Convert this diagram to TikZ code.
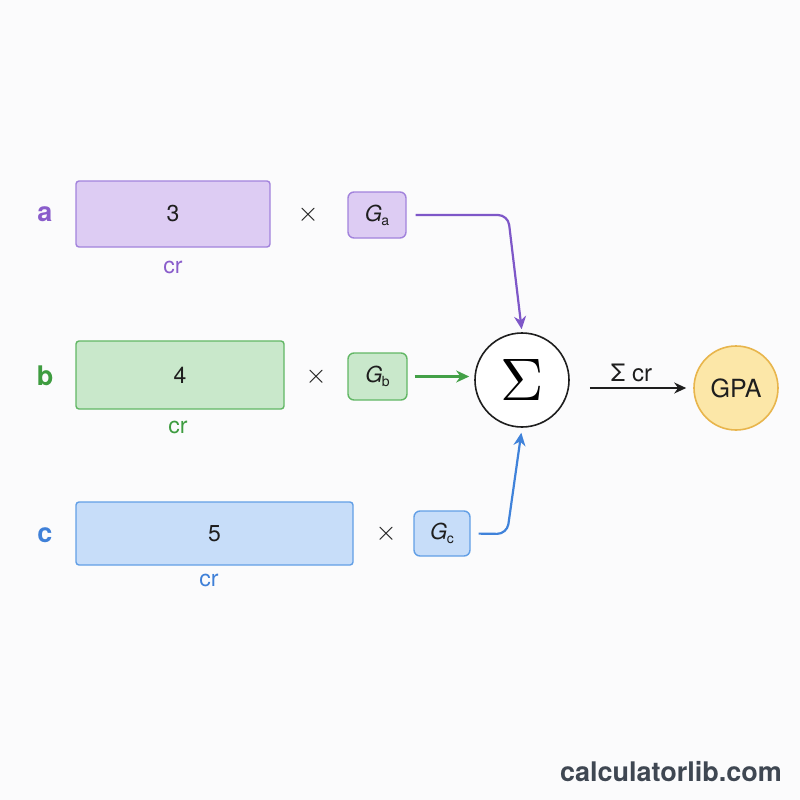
\documentclass[tikz,border=0pt]{standalone}
\usepackage{fontspec}
\setmainfont{TeX Gyre Heros}
\usetikzlibrary{arrows.meta}
\definecolor{bg}{HTML}{FBFBFC}
\definecolor{pfill}{HTML}{DDCCF3}
\definecolor{pdraw}{HTML}{A283DC}
\definecolor{ptext}{HTML}{8A5DCB}
\definecolor{parrow}{HTML}{7E57C8}
\definecolor{gfill}{HTML}{C9E8CB}
\definecolor{gdraw}{HTML}{62B765}
\definecolor{gtext}{HTML}{3E9C40}
\definecolor{garrow}{HTML}{43A047}
\definecolor{bfill}{HTML}{C7DDF9}
\definecolor{bdraw}{HTML}{629FE6}
\definecolor{btext}{HTML}{3F80D8}
\definecolor{barrow}{HTML}{3F82DA}
\definecolor{yfill}{HTML}{FCE7A8}
\definecolor{ydraw}{HTML}{E8B54C}
\definecolor{wm}{HTML}{3F4752}
\definecolor{ink}{HTML}{1E1E1E}
\newcommand{\gsym}[1]{{\itshape G}\kern-0.5pt\raisebox{-4pt}{\fontsize{14}{14}\selectfont #1}}
\newcommand{\timessym}{\scalebox{2.7}{$\times$}}
\tikzset{
  crbox/.style={draw, line width=1.4pt, rounded corners=3pt, inner sep=0pt, font=\fontsize{23}{23}\selectfont, text=ink},
  gbox/.style={draw, line width=1.4pt, rounded corners=6pt, inner sep=0pt, font=\fontsize{22}{22}\selectfont, text=ink},
  rowlabel/.style={font=\fontsize{27}{27}\selectfont\bfseries},
  crlabel/.style={font=\fontsize{23}{23}\selectfont},
  timeslabel/.style={text=ink, inner sep=0pt},
  flow/.style={line width=2.2pt, -{Stealth[length=13pt,width=12pt]}},
}
\begin{document}
\begin{tikzpicture}[x=1pt,y=-1pt]
\fill[bg] (0,0) rectangle (800,800);
\useasboundingbox (0,0) rectangle (800,800);

% row a
\node[rowlabel, text=ptext] (la) at (45,214) {a};
\node[crbox, fill=pfill, draw=pdraw, minimum width=194pt, minimum height=66pt] (A) at (173,214) {3};
\node[crlabel, text=ptext] (cra) at (173,267) {cr};
\node[timeslabel] (xa) at (308,215) {\timessym};
\node[gbox, fill=pfill, draw=pdraw, minimum width=58pt, minimum height=46pt] (Ga) at (377,215) {\gsym{a}};

% row b
\node[rowlabel, text=gtext] (lb) at (45,376) {b};
\node[crbox, fill=gfill, draw=gdraw, minimum width=208pt, minimum height=68pt] (B) at (180,375) {4};
\node[crlabel, text=gtext] (crb) at (178,427) {cr};
\node[timeslabel] (xb) at (316,377) {\timessym};
\node[gbox, fill=gfill, draw=gdraw, minimum width=59pt, minimum height=47pt] (Gb) at (377.5,376.5) {\gsym{b}};

% row c
\node[rowlabel, text=btext] (lc) at (45,535) {c};
\node[crbox, fill=bfill, draw=bdraw, minimum width=277pt, minimum height=63pt] (C) at (214.5,533.5) {5};
\node[crlabel, text=btext] (crc) at (209,580) {cr};
\node[timeslabel] (xc) at (386,534) {\timessym};
\node[gbox, fill=bfill, draw=bdraw, minimum width=56pt, minimum height=45pt] (Gc) at (442,533.5) {\gsym{c}};

% sum and result
\node[circle, draw=ink, line width=1.6pt, fill=white, minimum size=94pt, inner sep=0pt] (S) at (522,380) {\scalebox{6}{$\Sigma$}};
\node[circle, draw=ydraw, line width=1.6pt, fill=yfill, minimum size=84pt, inner sep=0pt, font=\fontsize{25}{25}\selectfont, text=ink] (GPA) at (736,388) {GPA};

% connectors
\coordinate (pa) at (508,215);
\coordinate (pc) at (507,534);
\draw[flow, parrow, rounded corners=10pt, shorten <=9pt, shorten >=3pt] (Ga.east) -- (pa) -- (S.north);
\draw[flow, garrow, shorten <=7pt, shorten >=5pt] (Gb.east) -- (S.west |- Gb.east);
\draw[flow, barrow, rounded corners=10pt, shorten <=8pt, shorten >=5pt] (Gc.east) -- (pc) -- (S.south);
\draw[line width=1.8pt, ink, -{Stealth[length=12pt,width=11pt]}, shorten <=20pt, shorten >=7pt] (S.east |- GPA.west) -- node[above=2pt, font=\fontsize{24}{24}\selectfont, text=ink] (sc) {Σ cr} (GPA.west);

% watermark
\node[font=\fontsize{27}{27}\selectfont\bfseries, text=wm] (wmk) at (671,772) {calculatorlib.com};
\end{tikzpicture}
\end{document}
